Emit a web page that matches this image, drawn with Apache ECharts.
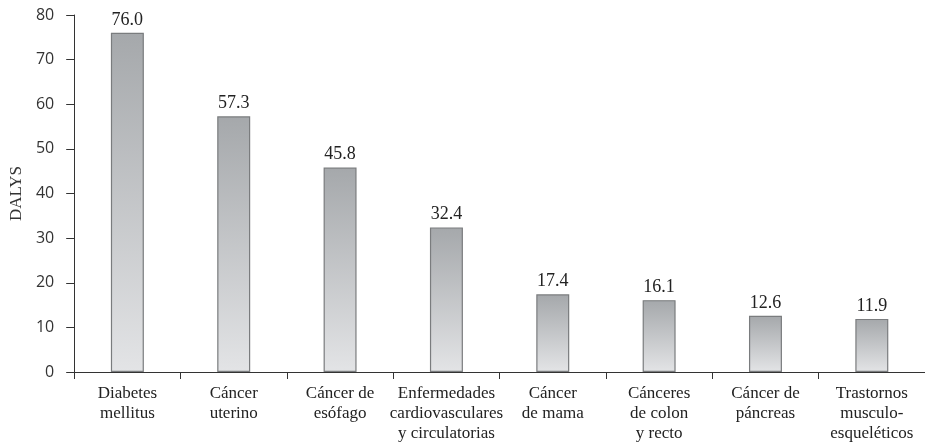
<!DOCTYPE html>
<html>
<head>
<meta charset="utf-8">
<script src="https://cdn.jsdelivr.net/npm/echarts@6/dist/echarts.min.js"></script>
<style>
  html, body { margin: 0; padding: 0; background: #fff; }
  #main { width: 925px; height: 445px; }
</style>
</head>
<body>
<div id="main"></div>
<script>
// Data
const categories = [
  "Diabetes\nmellitus",
  "Cáncer\nuterino",
  "Cáncer de\nesófago",
  "Enfermedades\ncardiovasculares\ny circulatorias",
  "Cáncer\nde mama",
  "Cánceres\nde colon\ny recto",
  "Cáncer de\npáncreas",
  "Trastornos\nmusculo-\nesqueléticos",
];
const dalys = [76.0, 57.3, 45.8, 32.4, 17.4, 16.1, 12.6, 11.9];
const yTicks = { min: 0, max: 80, interval: 10 };

const chart = echarts.init(document.getElementById("main"));

const serif = "'Liberation Serif', 'DejaVu Serif', serif";

const option = {
  animation: false,
  grid: { left: 70, right: 0, top: 15, bottom: 73 },
  xAxis: {
    type: "category",
    data: categories,
    axisLine: { lineStyle: { color: "#333", width: 1 } },
    axisTick: { show: true, length: 7, alignWithLabel: false, lineStyle: { color: "#333" } },
    axisLabel: {
      interval: 0,
      margin: 12,
      color: "#222",
      fontFamily: serif,
      fontSize: 17,
      lineHeight: 20,
    },
  },
  yAxis: {
    type: "value",
    min: yTicks.min,
    max: yTicks.max,
    interval: yTicks.interval,
    name: "DALYS",
    nameLocation: "middle",
    nameGap: 46,
    nameRotate: 90,
    nameTextStyle: { fontFamily: serif, fontSize: 17, color: "#333" },
    splitLine: { show: false },
    axisLine: { show: true, lineStyle: { color: "#333", width: 1 } },
    axisTick: { show: true, length: 8, lineStyle: { color: "#333" } },
    axisLabel: {
      margin: 20,
      color: "#333",
      fontFamily: "'Open Sans', 'DejaVu Sans', sans-serif",
      fontSize: 16,
    },
  },
  series: [
    {
      type: "bar",
      data: dalys,
      barWidth: "31%",
      itemStyle: {
        color: new echarts.graphic.LinearGradient(0, 0, 0, 1, [
          { offset: 0, color: "#a5a8ab" },
          { offset: 1, color: "#e3e4e6" },
        ]),
        borderColor: "#7a7c7e",
        borderWidth: 1.2,
      },
      label: {
        show: true,
        position: "top",
        distance: 4,
        color: "#222",
        fontFamily: serif,
        fontSize: 18,
        formatter: (p) => p.value.toFixed(1),
      },
    },
  ],
};

chart.setOption(option);
</script>
</body>
</html>
